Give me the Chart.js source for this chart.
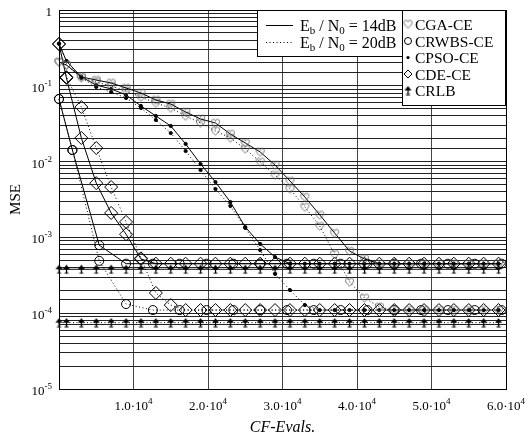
<!DOCTYPE html>
<html>
<head>
<meta charset="utf-8">
<script src="https://cdn.jsdelivr.net/npm/chart.js@4.4.0/dist/chart.umd.min.js"></script>
<style>
  html, body { margin: 0; padding: 0; background: #fff; }
  #wrap { width: 525px; height: 439px; }
</style>
</head>
<body>
<div id="wrap"><canvas id="mse-chart" width="525" height="439"></canvas></div>
<script>
// CF evaluations (x) for GA / PSO / DE / CRLB markers, and for RWBS
const evalsA = [0, 1000, 3000, 5000, 7000, 9000, 11000, 13000, 15000, 17000, 19000, 21000, 23000, 25000, 27000, 29000,
  31000, 33000, 35000, 37000, 39000, 41000, 43000, 45000, 47000, 49000, 51000, 53000, 55000, 57000, 59000];
const evalsB = [0, 1800, 5400, 9000, 12600, 16200, 19800, 23400, 27000, 30600, 34200, 37800, 41400, 45000, 48600,
  52200, 55800, 59400];

// MSE values, Eb/N0 = 14dB (solid) and 20dB (dotted)
const cga14 = [0.206, 0.188, 0.131, 0.119, 0.109, 0.0935, 0.0804, 0.065, 0.0575, 0.0451, 0.0365, 0.0323, 0.0231,
  0.0176, 0.0134, 0.009, 0.00555, 0.00341, 0.00198, 0.00114, 0.00066, 0.00052, 0.00045, 0.00045, 0.00045, 0.00045,
  0.00045, 0.00045, 0.00045, 0.00045, 0.00045];
const cga20 = [0.206, 0.188, 0.127, 0.112, 0.0994, 0.0854, 0.0712, 0.0593, 0.0509, 0.040, 0.0323, 0.0254, 0.0205,
  0.0147, 0.0099, 0.00665, 0.00435, 0.00252, 0.00141, 0.0006, 0.000258, 0.000159, 0.000121, 0.00011, 0.00011,
  0.00011, 0.00011, 0.00011, 0.00011, 0.00011, 0.00011];
const cpso14 = [0.36, 0.212, 0.131, 0.1025, 0.0908, 0.0757, 0.0542, 0.040, 0.0295, 0.0171, 0.0093, 0.00538, 0.00293,
  0.00137, 0.00082, 0.00055, 0.00045, 0.00045, 0.00045, 0.00045, 0.00045, 0.00045, 0.00045, 0.00045, 0.00045,
  0.00045, 0.00045, 0.00045, 0.00045, 0.00045, 0.00045];
const cpso20 = [0.36, 0.212, 0.127, 0.0964, 0.0828, 0.069, 0.0509, 0.0354, 0.0238, 0.0138, 0.00775, 0.00435, 0.0026,
  0.00133, 0.00068, 0.00033, 0.000202, 0.000128, 0.00011, 0.00011, 0.00011, 0.00011, 0.00011, 0.00011, 0.00011,
  0.00011, 0.00011, 0.00011, 0.00011, 0.00011, 0.00011];
const cde14 = [0.356, 0.127, 0.0205, 0.0052, 0.0021, 0.0011, 0.00052, 0.00045, 0.00045, 0.00045, 0.00045, 0.00045,
  0.00045, 0.00045, 0.00045, 0.00045, 0.00045, 0.00045, 0.00045, 0.00045, 0.00045, 0.00045, 0.00045, 0.00045,
  0.00045, 0.00045, 0.00045, 0.00045, 0.00045, 0.00045, 0.00045];
const cde20 = [0.356, 0.13, 0.0525, 0.0151, 0.00462, 0.0016, 0.00053, 0.000185, 0.000128, 0.00011, 0.00011, 0.00011,
  0.00011, 0.00011, 0.00011, 0.00011, 0.00011, 0.00011, 0.00011, 0.00011, 0.00011, 0.00011, 0.00011, 0.00011,
  0.00011, 0.00011, 0.00011, 0.00011, 0.00011, 0.00011, 0.00011];
const crwbs14 = [0.067, 0.0142, 0.00079, 0.00045, 0.00045, 0.00045, 0.00045, 0.00045, 0.00045, 0.00045, 0.00045,
  0.00045, 0.00045, 0.00045, 0.00045, 0.00045, 0.00045, 0.00045];
const crwbs20 = [0.067, 0.0142, 0.00049, 0.000132, 0.00011, 0.00011, 0.00011, 0.00011, 0.00011, 0.00011, 0.00011,
  0.00011, 0.00011, 0.00011, 0.00011, 0.00011, 0.00011, 0.00011];
const crlb14 = [0.00038, 0.00038, 0.00038, 0.00038, 0.00038, 0.00038, 0.00038, 0.00038, 0.00038, 0.00038, 0.00038,
  0.00038, 0.00038, 0.00038, 0.00038, 0.00038, 0.00038, 0.00038, 0.00038, 0.00038, 0.00038, 0.00038, 0.00038,
  0.00038, 0.00038, 0.00038, 0.00038, 0.00038, 0.00038, 0.00038, 0.00038];
const crlb20 = [0.000075, 0.000075, 0.000075, 0.000075, 0.000075, 0.000075, 0.000075, 0.000075, 0.000075, 0.000075,
  0.000075, 0.000075, 0.000075, 0.000075, 0.000075, 0.000075, 0.000075, 0.000075, 0.000075, 0.000075, 0.000075,
  0.000075, 0.000075, 0.000075, 0.000075, 0.000075, 0.000075, 0.000075, 0.000075, 0.000075, 0.000075];

const xTickValues = [10000, 20000, 30000, 40000, 50000, 60000];
const yTickExps = [0, -1, -2, -3, -4, -5];

const FONT = '"Liberation Serif", "Times New Roman", serif';

// marker images
function heartImg() {
  const c = document.createElement('canvas');
  c.width = 11; c.height = 11;
  const g = c.getContext('2d');
  g.strokeStyle = '#666';
  g.lineWidth = 1;
  g.beginPath();
  g.moveTo(5.5, 9.5);
  g.bezierCurveTo(1.5, 6.5, 0.5, 3.5, 2.3, 2.2);
  g.bezierCurveTo(3.8, 1.2, 5.3, 2.2, 5.5, 3.6);
  g.bezierCurveTo(5.7, 2.2, 7.2, 1.2, 8.7, 2.2);
  g.bezierCurveTo(10.5, 3.5, 9.5, 6.5, 5.5, 9.5);
  g.stroke();
  return c;
}
function spadeImg() {
  const c = document.createElement('canvas');
  c.width = 9; c.height = 10;
  const g = c.getContext('2d');
  g.fillStyle = '#000';
  g.beginPath();
  g.moveTo(4.5, 0.5);
  g.lineTo(8, 5);
  g.lineTo(1, 5);
  g.closePath();
  g.fill();
  g.fillRect(3.9, 4, 1.3, 5);
  g.fillRect(2.5, 8.5, 4, 1);
  return c;
}
const HEART = heartImg();
const SPADE = spadeImg();

function pts(xs, ys) {
  return xs.map((x, i) => ({ x: x, y: ys[i] }));
}

const markers = {
  cga: { pointStyle: HEART, pointRadius: 5, pointBorderColor: '#666', pointBackgroundColor: 'rgba(0,0,0,0)' },
  crwbs: { pointStyle: 'circle', pointRadius: 4.5, pointBorderColor: '#000', pointBackgroundColor: 'rgba(0,0,0,0)' },
  cpso: { pointStyle: 'circle', pointRadius: 1.6, pointBorderColor: '#000', pointBackgroundColor: '#000' },
  cde: { pointStyle: 'rectRot', pointRadius: 6.5, pointBorderColor: '#000', pointBackgroundColor: 'rgba(0,0,0,0)' },
  crlb: { pointStyle: SPADE, pointRadius: 5, pointBorderColor: '#000', pointBackgroundColor: '#000' }
};

function series(label, xs, ys, marker, dotted) {
  return Object.assign({
    label: label,
    data: pts(xs, ys),
    showLine: true,
    borderColor: '#000',
    borderWidth: 1,
    borderDash: dotted ? [1, 2.5] : [],
    pointBorderWidth: 1,
    tension: 0,
    clip: 12
  }, marker);
}

const datasets = [
  series('CGA-CE 14dB', evalsA, cga14, markers.cga, false),
  series('CGA-CE 20dB', evalsA, cga20, markers.cga, true),
  series('CRWBS-CE 14dB', evalsB, crwbs14, markers.crwbs, false),
  series('CRWBS-CE 20dB', evalsB, crwbs20, markers.crwbs, true),
  series('CPSO-CE 14dB', evalsA, cpso14, markers.cpso, false),
  series('CPSO-CE 20dB', evalsA, cpso20, markers.cpso, true),
  series('CDE-CE 14dB', evalsA, cde14, markers.cde, false),
  series('CDE-CE 20dB', evalsA, cde20, markers.cde, true),
  series('CRLB 14dB', evalsA, crlb14, markers.crlb, false),
  series('CRLB 20dB', evalsA, crlb20, markers.crlb, true)
];

// text with sub/superscripts: parts = [[text, size, dy], ...]
function richWidth(ctx, parts, italic) {
  let w = 0;
  parts.forEach(p => {
    ctx.font = (italic ? 'italic ' : '') + p[1] + 'px ' + FONT;
    w += ctx.measureText(p[0]).width;
  });
  return w;
}
function drawRich(ctx, parts, x, y) {
  let cx = x;
  ctx.textAlign = 'left';
  ctx.textBaseline = 'alphabetic';
  parts.forEach(p => {
    ctx.font = p[1] + 'px ' + FONT;
    ctx.fillText(p[0], cx, y + p[2]);
    cx += ctx.measureText(p[0]).width;
  });
}

const decorations = {
  id: 'decorations',
  afterDraw(chart) {
    const ctx = chart.ctx;
    const area = chart.chartArea;
    const xs = chart.scales.x;
    const ys = chart.scales.y;
    ctx.save();

    // plot frame
    ctx.strokeStyle = '#000';
    ctx.lineWidth = 1;
    ctx.strokeRect(Math.round(area.left) + 0.5, Math.round(area.top) + 0.5,
      Math.round(area.right - area.left), Math.round(area.bottom - area.top));

    ctx.fillStyle = '#000';

    // x tick labels
    xTickValues.forEach(v => {
      const parts = [[(v / 10000).toFixed(1) + '\u00b710', 13, 0], ['4', 9, -6]];
      const w = richWidth(ctx, parts);
      drawRich(ctx, parts, xs.getPixelForValue(v) - w / 2, 410);
    });

    // y tick labels
    yTickExps.forEach(e => {
      const py = ys.getPixelForValue(Math.pow(10, e));
      const parts = e === 0 ? [['1', 13, 0]] : [['10', 13, 0], [String(e), 9, -6]];
      const w = richWidth(ctx, parts);
      drawRich(ctx, parts, 52 - w, py + 6);
    });

    // axis titles
    ctx.font = 'italic 16px ' + FONT;
    ctx.textAlign = 'center';
    ctx.textBaseline = 'alphabetic';
    ctx.fillText('CF-Evals.', (area.left + area.right) / 2, 432);

    ctx.save();
    ctx.translate(20, (area.top + area.bottom) / 2);
    ctx.rotate(-Math.PI / 2);
    ctx.font = '15px ' + FONT;
    ctx.fillText('MSE', 0, 0);
    ctx.restore();

    // legend box 1: line styles
    ctx.fillStyle = '#fff';
    ctx.fillRect(257, 10, 145, 46);
    ctx.strokeStyle = '#000';
    ctx.strokeRect(257.5, 10.5, 145, 46);
    ctx.beginPath();
    ctx.setLineDash([]);
    ctx.moveTo(266, 25.5);
    ctx.lineTo(293, 25.5);
    ctx.stroke();
    ctx.beginPath();
    ctx.setLineDash([1, 2.5]);
    ctx.moveTo(266, 42.5);
    ctx.lineTo(293, 42.5);
    ctx.stroke();
    ctx.setLineDash([]);
    ctx.fillStyle = '#000';
    drawRich(ctx, [['E', 16, 0], ['b', 11, 3], [' / N', 16, 0], ['0', 11, 3], [' = 14dB', 16, 0]], 300, 31);
    drawRich(ctx, [['E', 16, 0], ['b', 11, 3], [' / N', 16, 0], ['0', 11, 3], [' = 20dB', 16, 0]], 300, 48);

    // legend box 2: markers
    ctx.fillStyle = '#fff';
    ctx.fillRect(402, 10, 103, 95);
    ctx.strokeRect(402.5, 10.5, 103, 95);
    const names = ['CGA-CE', 'CRWBS-CE', 'CPSO-CE', 'CDE-CE', 'CRLB'];
    const rowY = [24, 41, 57.5, 74, 90.5];
    names.forEach((n, i) => {
      const cy = rowY[i];
      const cx = 408;
      ctx.strokeStyle = '#000';
      ctx.fillStyle = '#000';
      ctx.lineWidth = 1;
      if (i === 0) {
        ctx.drawImage(HEART, cx - 5.5, cy - 5.5);
      } else if (i === 1) {
        ctx.beginPath(); ctx.arc(cx, cy, 3.5, 0, Math.PI * 2); ctx.stroke();
      } else if (i === 2) {
        ctx.beginPath(); ctx.arc(cx, cy, 1.6, 0, Math.PI * 2); ctx.fill();
      } else if (i === 3) {
        ctx.beginPath();
        ctx.moveTo(cx, cy - 4); ctx.lineTo(cx + 4, cy); ctx.lineTo(cx, cy + 4); ctx.lineTo(cx - 4, cy);
        ctx.closePath(); ctx.stroke();
      } else {
        ctx.drawImage(SPADE, cx - 4.5, cy - 5);
      }
      drawRich(ctx, [[n, 15.5, 0]], 415, cy + 5.5);
    });

    ctx.restore();
  }
};

new Chart(document.getElementById('mse-chart'), {
  type: 'scatter',
  data: { datasets: datasets },
  options: {
    responsive: false,
    animation: false,
    devicePixelRatio: 1,
    layout: { padding: { top: 10, right: 19, left: 0, bottom: 0 } },
    plugins: { legend: { display: false }, tooltip: { enabled: false } },
    scales: {
      x: {
        type: 'linear',
        min: 0,
        max: 60000,
        ticks: { stepSize: 10000, display: false },
        grid: { color: '#444', lineWidth: 1, drawTicks: false },
        border: { color: '#000' },
        afterFit(scale) { scale.height = 50; }
      },
      y: {
        type: 'logarithmic',
        min: 1e-5,
        max: 1,
        ticks: { display: false },
        grid: { color: '#222', lineWidth: 1, drawTicks: false },
        border: { color: '#000' },
        afterFit(scale) { scale.width = 59; }
      }
    }
  },
  plugins: [decorations]
});
</script>
</body>
</html>
